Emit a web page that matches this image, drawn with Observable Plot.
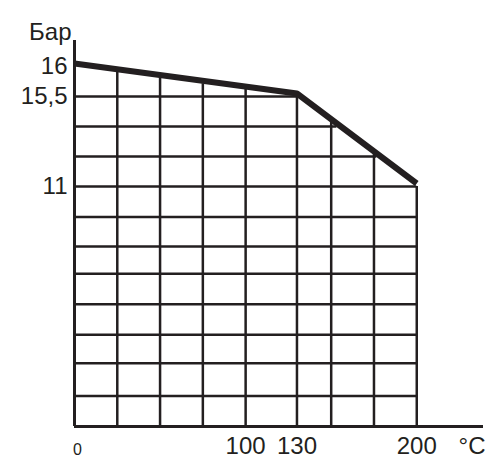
<!DOCTYPE html>
<html>
<head>
<meta charset="utf-8">
<script src="https://cdn.jsdelivr.net/npm/d3@7"></script>
<script src="https://cdn.jsdelivr.net/npm/@observablehq/plot@0.6"></script>
<style>
  html, body { margin: 0; padding: 0; background: #fff; }
</style>
</head>
<body>
<div id="chart"></div>
<script>
// Pressure–temperature curve (°C, Бар)
const temps = [0, 130, 200];
const pressures = [16, 15.5, 11];

// Axis ticks
const xTickValues = [100, 130, 200];
const xZeroLabel = [0];
const yTickValues = [16, 15.5, 11];
const yTickLabels = ["16", "15,5", "11"];
const yUnit = "Бар";
const xUnit = "°C";

// Grid levels
const xGrid = [25, 50, 75, 100, 130, 150, 175, 200];
const yGrid = [1.4, 2.9, 4.2, 5.6, 7.0, 8.25, 9.6, 11, 12.5, 14, 15.5];

const xMax = 239;
const yTop = 16.43;

const ink = "#231f20";
const pAt = d3.scaleLinear().domain(temps).range(pressures).clamp(true);
const tAt = d3.scaleLinear().domain(pressures).range(temps).clamp(true);

const chart = Plot.plot({
  width: 498,
  height: 469,
  style: {fontFamily: "Liberation Sans, Arial, sans-serif", background: "#fff", color: ink},
  x: {type: "linear", domain: [0, xMax], range: [74, 483], axis: null},
  y: {type: "linear", domain: [0, 11, 15.5, 16, yTop], range: [426, 186, 96, 66, 40], axis: null},
  marks: [
    Plot.ruleX(xGrid, {x: d => d, y1: 0, y2: d => pAt(d), stroke: ink, strokeWidth: 2.5}),
    Plot.ruleY(yGrid, {y: d => d, x1: 0, x2: d => tAt(d), stroke: ink, strokeWidth: 2.5}),
    Plot.ruleY([0], {x1: 0, x2: xMax, stroke: ink, strokeWidth: 3}),
    Plot.ruleX([0], {y1: 0, y2: yTop, stroke: ink, strokeWidth: 3}),
    Plot.line(temps.map((t, i) => ({t, p: pressures[i]})), {
      x: "t", y: "p", stroke: ink, strokeWidth: 6, dy: -3,
      strokeLinecap: "butt", strokeLinejoin: "miter"
    }),
    Plot.text(yTickValues, {
      x: 0, y: d => d, text: (d, i) => yTickLabels[i],
      textAnchor: "end", dx: -7, fontSize: 24, fill: ink
    }),
    Plot.text([yUnit], {
      x: 0, y: yTop, text: d => d, textAnchor: "end", lineAnchor: "bottom",
      dx: -3, dy: -1, fontSize: 24, fill: ink
    }),
    Plot.text(xTickValues, {
      x: d => d, y: 0, text: d => String(d), dy: 20, fontSize: 24, fill: ink
    }),
    Plot.text(xZeroLabel, {
      x: d => d, y: 0, text: d => String(d), dx: 3, dy: 23, fontSize: 16, fill: ink
    }),
    Plot.text([xUnit], {
      x: xMax, y: 0, text: d => d, textAnchor: "end", dx: 2, dy: 20, fontSize: 24, fill: ink
    })
  ]
});
document.getElementById("chart").appendChild(chart);
</script>
</body>
</html>
